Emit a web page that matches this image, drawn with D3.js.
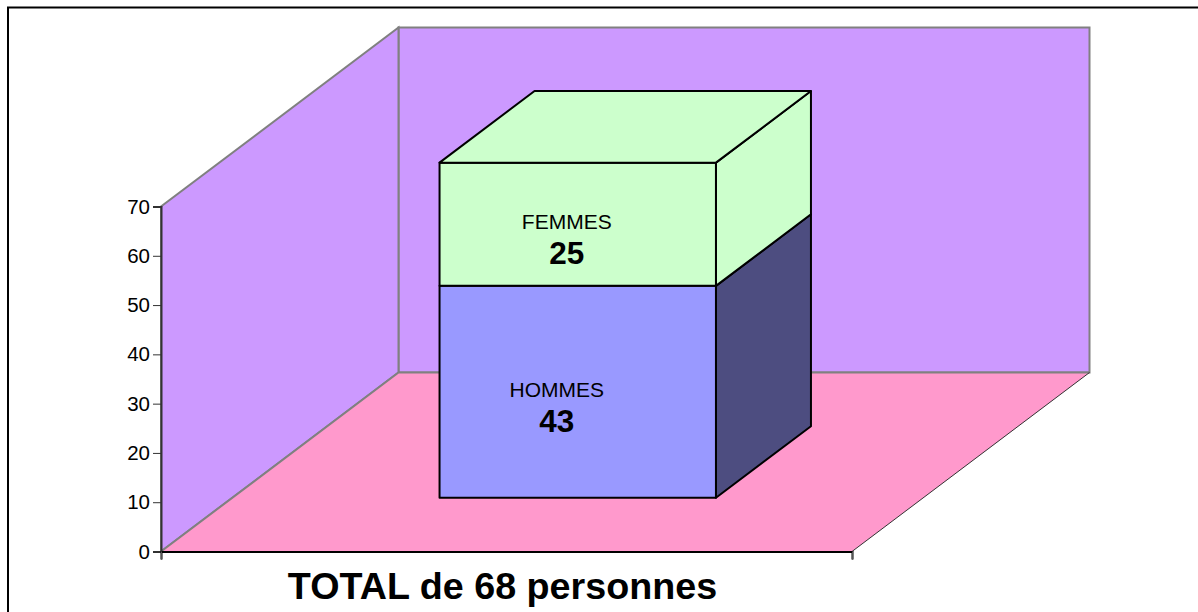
<!DOCTYPE html>
<html>
<head>
<meta charset="utf-8">
<script src="https://cdn.jsdelivr.net/npm/d3@7"></script>
<style>
  html, body { margin: 0; padding: 0; background: #fff; overflow: hidden; }
  svg { display: block; font-family: "Liberation Sans", Arial, sans-serif; }
</style>
</head>
<body>
<svg id="chart"></svg>
<script>
// data
const categories = ["HOMMES", "FEMMES"];
const values = [43, 25];
const yTicks = [0, 10, 20, 30, 40, 50, 60, 70];
const titleText = "TOTAL de 68 personnes";

const width = 1198, height = 612;
const colors = { wall: "#cc99ff", floor: "#ff99cc", wallLine: "#808080" };
const fronts = ["#9999ff", "#ccffcc"];
const sides = ["#4d4d80", "#ccffcc"];

const svg = d3.select("#chart").attr("width", width).attr("height", height);

// front plane scales
const x = d3.scaleLinear().domain([0, 1]).range([161, 852]);
const y = d3.scaleLinear().domain([0, 70]).range([551.5, 206.5]);
// depth goes from 0 (front) to 1 (back wall)
const depthX = d3.scaleLinear().domain([0, 1]).range([0, 237.5]);
const depthY = d3.scaleLinear().domain([0, 1]).range([0, -179]);
// gap width 150% on both directions
const band = d3.scaleBand().domain(["total"]).range([0, 1]).padding(3 / 7);
const pt = (a, v, d) => [x(a) + depthX(d), y(v) + depthY(d)];
const line = d3.line().curve(d3.curveLinearClosed);

// frame, runs off the right and bottom of the page
svg.append("rect")
  .attr("x", 8).attr("y", 7.5)
  .attr("width", width + 20).attr("height", height + 20)
  .attr("fill", "#fff").attr("stroke", "#000").attr("stroke-width", 2);

// walls and floor
svg.append("path")
  .attr("d", line([pt(0, 0, 1), pt(1, 0, 1), pt(1, 70, 1), pt(0, 70, 1)]))
  .attr("fill", colors.wall).attr("stroke", colors.wallLine).attr("stroke-width", 2);
svg.append("path")
  .attr("d", line([pt(0, 0, 0), pt(0, 70, 0), pt(0, 70, 1), pt(0, 0, 1)]))
  .attr("fill", colors.wall).attr("stroke", colors.wallLine).attr("stroke-width", 2);
svg.append("path")
  .attr("d", line([pt(0, 0, 0), pt(1, 0, 0), pt(1, 0, 1), pt(0, 0, 1)]))
  .attr("fill", colors.floor);
svg.append("path")
  .attr("d", d3.line()([pt(0, 0, 0), pt(0, 0, 1), pt(1, 0, 1)]))
  .attr("fill", "none").attr("stroke", colors.wallLine).attr("stroke-width", 2);
svg.append("path")
  .attr("d", d3.line()([pt(1, 0, 1), pt(1, 0, 0)]))
  .attr("fill", "none").attr("stroke", "#333").attr("stroke-width", 1);

// axes
const yAxis = svg.append("g")
  .attr("transform", `translate(${x(0)},0)`)
  .call(d3.axisLeft(y).tickValues(yTicks).tickSize(8).tickPadding(3).tickFormat(d3.format("d")));
yAxis.select(".domain").attr("stroke", "#333").attr("stroke-width", 2);
yAxis.selectAll(".tick line").attr("stroke", "#333");
yAxis.selectAll("text").attr("font-size", 20.5).attr("font-family", "Liberation Sans").attr("fill", "#000");

const xAxis = svg.append("g")
  .attr("transform", `translate(0,${y(0)})`)
  .call(d3.axisBottom(x).tickValues([0, 1]).tickSize(8).tickFormat(""));
xAxis.select(".domain").attr("stroke", "#000").attr("stroke-width", 2);
xAxis.selectAll(".tick line").attr("stroke", "#555");

// stacked 3d bar
const stacked = d3.stack().keys(categories)([Object.fromEntries(categories.map((c, i) => [c, values[i]]))]);
const a0 = band("total"), a1 = a0 + band.bandwidth();
const d0 = band("total"), d1 = d0 + band.bandwidth();
const labelShift = [-21, -11];

stacked.forEach((s, i) => {
  const [v0, v1] = s[0];
  const g = svg.append("g").attr("stroke", "#000").attr("stroke-width", 2).attr("stroke-linejoin", "round");
  g.append("path")
    .attr("d", line([pt(a1, v0, d0), pt(a1, v1, d0), pt(a1, v1, d1), pt(a1, v0, d1)]))
    .attr("fill", sides[i]);
  g.append("path")
    .attr("d", line([pt(a0, v0, d0), pt(a1, v0, d0), pt(a1, v1, d0), pt(a0, v1, d0)]))
    .attr("fill", fronts[i]);
  if (i === stacked.length - 1) {
    g.append("path")
      .attr("d", line([pt(a0, v1, d0), pt(a1, v1, d0), pt(a1, v1, d1), pt(a0, v1, d1)]))
      .attr("fill", fronts[i]);
  }
  const [cx, cy] = pt((a0 + a1) / 2, (v0 + v1) / 2, d0);
  svg.append("text")
    .attr("x", cx + labelShift[i]).attr("y", cy + 5)
    .attr("text-anchor", "middle").attr("font-size", 21)
    .text(categories[i]);
  svg.append("text")
    .attr("x", cx + labelShift[i]).attr("y", cy + 40)
    .attr("text-anchor", "middle").attr("font-size", 31.5).attr("font-weight", "bold")
    .text(values[i]);
});

// title
svg.append("text")
  .attr("x", 502.5).attr("y", 599)
  .attr("text-anchor", "middle").attr("font-size", 37.7).attr("font-weight", "bold")
  .text(titleText);
</script>
</body>
</html>
